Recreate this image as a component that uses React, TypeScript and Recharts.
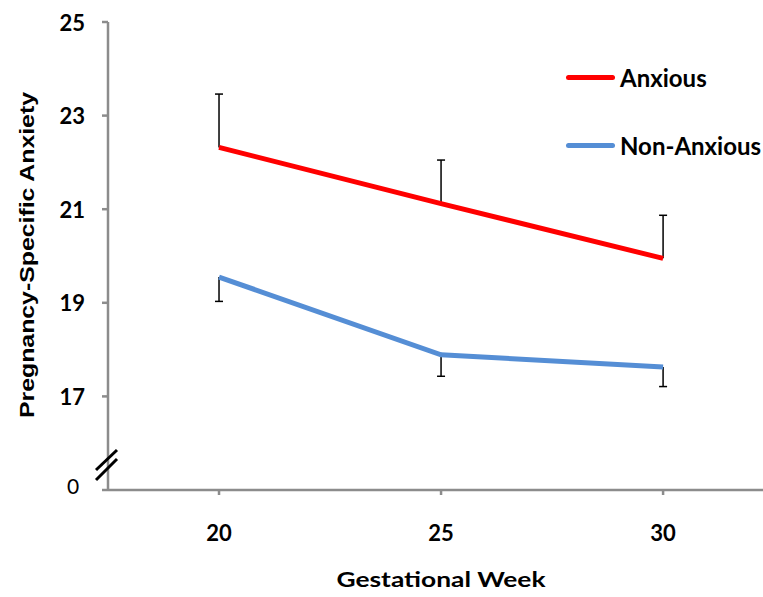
import { LineChart, Line, XAxis, YAxis, ErrorBar, Legend, Label } from "recharts";

const weeks = [20, 25, 30];
const anxious = [22.32, 21.12, 19.95];
const anxiousErr = [1.14, 0.93, 0.92];
const nonAnxious = [19.55, 17.89, 17.63];
const nonAnxiousErr = [0.52, 0.46, 0.42];
const yTicks = [15, 17, 19, 21, 23, 25];

const RED = "#ff0000";
const BLUE = "#558ed5";
const AXIS = "#8c8c8c";
const FONT = "Lato, 'Open Sans', sans-serif";

// anxious bars go up only, non-anxious bars go down only
const data = weeks.map((w, i) => ({
  week: w,
  anxious: anxious[i],
  anxiousErr: [0, anxiousErr[i]],
  anxiousCap: anxious[i] + anxiousErr[i],
  nonAnxious: nonAnxious[i],
  nonAnxiousErr: [nonAnxiousErr[i], 0],
  nonAnxiousCap: nonAnxious[i] - nonAnxiousErr[i],
}));

function YTick(props: any) {
  const { x, y, payload } = props;
  const ax = x + 23;
  if (payload.value === 15) {
    return (
      <g>
        <text x={x - 12} y={y - 5} textAnchor="middle" dominantBaseline="central" fontFamily={FONT} fontSize={21} fill="#000">
          0
        </text>
        <line x1={ax - 12} y1={y - 20} x2={ax + 9} y2={y - 40} stroke="#000" strokeWidth={3} />
        <line x1={ax - 12} y1={y - 10} x2={ax + 9} y2={y - 31} stroke="#000" strokeWidth={3} />
      </g>
    );
  }
  return (
    <text x={x} y={y} textAnchor="end" dominantBaseline="central" fontFamily={FONT} fontWeight={700} fontSize={22} fill="#000">
      {payload.value}
    </text>
  );
}

function XTick(props: any) {
  const { x, y, payload } = props;
  return (
    <text x={x} y={y} textAnchor="middle" dominantBaseline="central" fontFamily={FONT} fontWeight={700} fontSize={22} fill="#000">
      {payload.value}
    </text>
  );
}

// short horizontal cap at the open end of each error bar
function Cap(props: any) {
  const { cx, cy, index } = props;
  if (cx == null || cy == null) return <g key={index} />;
  return <line key={index} x1={cx - 4} x2={cx + 4} y1={cy} y2={cy} stroke="#000" strokeWidth={1.5} />;
}

function LegendBox(props: any) {
  const items = (props.payload || []).filter((p: any) => p.type !== "none");
  return (
    <div>
      {items.map((p: any) => (
        <div key={p.value} style={{ display: "flex", alignItems: "center", height: 34, marginBottom: 34 }}>
          <span style={{ display: "inline-block", width: 49, height: 5, borderRadius: 3, background: p.color }} />
          <span style={{ marginLeft: 5, fontFamily: FONT, fontWeight: 700, fontSize: 24, color: "#000", whiteSpace: "nowrap" }}>
            {p.value}
          </span>
        </div>
      ))}
    </div>
  );
}

export default function App() {
  return (
    <div style={{ position: "absolute", left: 0, top: 0, background: "#fff" }}>
      <LineChart width={763} height={597} data={data} margin={{ top: 22, right: 0, bottom: 0, left: 0 }}>
        <XAxis
          dataKey="week"
          type="number"
          domain={[17.5, 32.25]}
          ticks={weeks}
          allowDataOverflow
          height={107}
          stroke={AXIS}
          strokeWidth={2.5}
          tickSize={5}
          tickMargin={37}
          tick={<XTick />}
        >
          <Label
            content={() => (
              <text x={441} y={578} textAnchor="middle" dominantBaseline="central" fontFamily={FONT} fontWeight={700} fontSize={21} textLength={209} lengthAdjust="spacingAndGlyphs">
                Gestational Week
              </text>
            )}
          />
        </XAxis>
        <YAxis
          type="number"
          domain={[15, 25]}
          ticks={yTicks}
          allowDataOverflow
          width={108}
          stroke={AXIS}
          strokeWidth={2.5}
          tickSize={6}
          tickMargin={17}
          tick={<YTick />}
        >
          <Label
            content={() => (
              <text transform="translate(26,255) rotate(-90)" textAnchor="middle" dominantBaseline="central" fontFamily="'Liberation Sans', Arial, sans-serif" fontWeight={700} fontSize={21} textLength={326} lengthAdjust="spacingAndGlyphs">
                Pregnancy-Specific Anxiety
              </text>
            )}
          />
        </YAxis>
        <Legend
          layout="vertical"
          verticalAlign="middle"
          align="center"
          content={<LegendBox />}
          wrapperStyle={{ position: "absolute", left: 566, top: 60, width: 200 }}
        />
        <Line dataKey="anxious" name="Anxious" stroke={RED} strokeWidth={5} dot={false} isAnimationActive={false}>
          <ErrorBar dataKey="anxiousErr" direction="y" width={0} stroke="#000" strokeWidth={1.5} />
        </Line>
        <Line dataKey="nonAnxious" name="Non-Anxious" stroke={BLUE} strokeWidth={5} dot={false} isAnimationActive={false}>
          <ErrorBar dataKey="nonAnxiousErr" direction="y" width={0} stroke="#000" strokeWidth={1.5} />
        </Line>
        <Line dataKey="anxiousCap" stroke="none" dot={Cap} activeDot={false} legendType="none" isAnimationActive={false} />
        <Line dataKey="nonAnxiousCap" stroke="none" dot={Cap} activeDot={false} legendType="none" isAnimationActive={false} />
      </LineChart>
    </div>
  );
}
